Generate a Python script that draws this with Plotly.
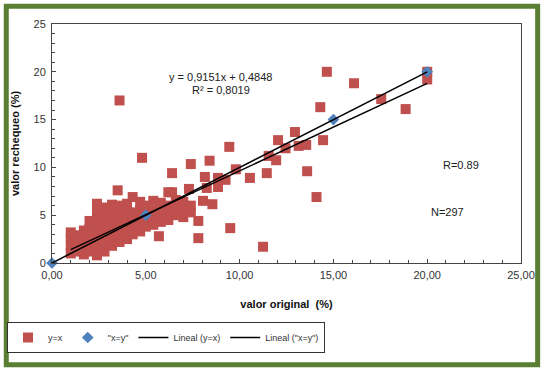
import plotly.graph_objects as go

# ---- data ----
red_x = [
    3.6, 4.8, 14.65, 16.1, 14.3, 17.55, 18.85, 20.0, 20.0, 14.45, 12.95, 12.05, 13.15, 13.55,
    12.45, 11.55, 11.95, 9.45, 10.55, 11.45, 13.6, 14.1, 9.8, 8.4, 7.4, 8.15, 8.85, 9.25,
    8.85, 8.25, 7.3, 6.95, 8.05, 8.55, 7.8, 7.8, 9.5, 11.25, 5.7, 6.4, 6.4, 3.5,
    1.0, 1.0, 1.0, 1.0,
    1.3, 1.3, 1.3,
    1.7, 1.7, 1.7, 1.7,
    2.0, 2.0, 2.0, 2.0, 2.0,
    2.4, 2.4, 2.4, 2.4, 2.4, 2.4, 2.4, 2.4,
    2.8, 2.8, 2.8, 2.8, 2.8, 2.8, 2.8,
    3.2, 3.2, 3.2, 3.2, 3.2, 3.2, 3.2,
    3.6, 3.6, 3.6, 3.6, 3.6, 3.6,
    4.0, 4.0, 4.0, 4.0, 4.0, 4.0,
    4.3, 4.3, 4.3, 4.3, 4.3,
    4.7, 4.7, 4.7, 4.7, 4.7,
    5.0, 5.0, 5.0, 5.0,
    5.4, 5.4, 5.4, 5.4,
    5.8, 5.8, 5.8, 5.8,
    6.2, 6.2, 6.2, 6.2,
    6.6, 6.6, 6.6,
    7.0, 7.0, 7.0,
    7.4, 7.4,
]
red_y = [
    17.0, 11.0, 20.0, 18.8, 16.3, 17.15, 16.1, 20.0, 19.2, 12.85, 13.7, 12.85, 12.25, 12.35,
    12.0, 11.2, 10.75, 12.15, 8.9, 9.4, 9.6, 6.9, 9.8, 10.7, 10.35, 9.0, 8.9, 8.7,
    7.95, 7.85, 7.75, 6.3, 6.5, 6.15, 4.4, 2.6, 3.65, 1.7, 2.8, 9.4, 7.4, 7.6,
    1.0, 1.8, 2.6, 3.2,
    1.2, 2.0, 2.9,
    0.9, 1.6, 2.4, 3.4,
    1.2, 2.0, 2.8, 3.6, 4.4,
    0.8, 1.5, 2.3, 3.0, 3.9, 4.7, 5.5, 6.2,
    1.2, 2.0, 2.8, 3.6, 4.3, 5.0, 5.8,
    1.8, 2.5, 3.3, 4.0, 4.8, 5.5, 6.1,
    2.2, 3.0, 3.8, 4.5, 5.2, 6.0,
    2.5, 3.2, 4.0, 4.7, 5.4, 6.2,
    3.0, 3.8, 4.5, 5.3, 6.9,
    3.3, 4.1, 4.8, 5.6, 6.4,
    3.8, 4.5, 5.3, 6.0,
    4.0, 4.8, 5.5, 6.5,
    4.3, 5.0, 5.8, 6.3,
    4.5, 5.2, 6.0, 7.4,
    5.0, 5.8, 6.6,
    4.8, 5.6, 6.4,
    5.3, 6.0,
]
blue_x = [0, 5, 15, 20]
blue_y = [0, 5, 15, 20]

slope = 0.9151
intercept = 0.4848
r2_text = "0,8019"

x_ticks = [0, 5, 10, 15, 20, 25]
x_tick_text = ["0,00", "5,00", "10,00", "15,00", "20,00", "25,00"]
y_ticks = [0, 5, 10, 15, 20, 25]

# trend lines
fit_x = [min(red_x), max(red_x)]
fit_y = [slope * v + intercept for v in fit_x]
idl_x = [min(blue_x), max(blue_x)]
idl_y = [min(blue_y), max(blue_y)]

FONT = "Liberation Sans, Arial, sans-serif"

fig = go.Figure()
fig.add_trace(go.Scatter(x=red_x, y=red_y, mode="markers", name="y=x",
                         marker=dict(symbol="square", size=10, color="#C0504D"),
                         cliponaxis=False))
fig.add_trace(go.Scatter(x=blue_x, y=blue_y, mode="markers", name='"x=y"',
                         marker=dict(symbol="diamond", size=9, color="#4F81BD"),
                         cliponaxis=False))
fig.add_trace(go.Scatter(x=fit_x, y=fit_y, mode="lines", name="Lineal (y=x)",
                         line=dict(color="black", width=1.5)))
fig.add_trace(go.Scatter(x=idl_x, y=idl_y, mode="lines", name='Lineal ("x=y")',
                         line=dict(color="black", width=1.5)))

fig.add_annotation(x=9.0, y=19.5, text=f"y = {str(slope).replace('.', ',')}x + {str(intercept).replace('.', ',')}",
                   showarrow=False, font=dict(size=11, color="#222"))
fig.add_annotation(x=9.0, y=18.1, text=f"R² = {r2_text}", showarrow=False,
                   font=dict(size=11, color="#222"))
fig.add_annotation(x=21.8, y=10.25, text="R=0.89", showarrow=False,
                   font=dict(size=11, color="#222"))
fig.add_annotation(x=21.1, y=5.35, text="N=297", showarrow=False,
                   font=dict(size=11, color="#222"))

# green frame
fig.add_shape(type="rect", xref="paper", yref="paper",
              x0=-0.0975, x1=1.0355, y0=-0.4255, y1=1.0745,
              line=dict(color="#5B7F32", width=5), layer="below")

fig.update_layout(
    width=547, height=376,
    margin=dict(l=52, r=24, t=24, b=113),
    paper_bgcolor="white", plot_bgcolor="white",
    font=dict(family=FONT, size=11, color="#333"),
    showlegend=True,
    legend=dict(orientation="h", xref="container", yref="container",
                x=7 / 547, y=1 - 322 / 376, xanchor="left", yanchor="top",
                bordercolor="#333", borderwidth=1, font=dict(size=9, color="#333"),
                bgcolor="white", itemwidth=30, tracegroupgap=0),
)
fig.update_xaxes(range=[0, 25], tickvals=x_ticks, ticktext=x_tick_text,
                 showgrid=False, zeroline=False, showline=True, linecolor="#444",
                 linewidth=1, mirror=True, ticks="inside", ticklen=4, tickcolor="#444",
                 minor=dict(ticks="inside", dtick=1, ticklen=3, tickcolor="#444"),
                 tickfont=dict(size=11, color="#333"), ticklabelstandoff=2,
                 title=dict(text="<b>valor original  (%)</b>", standoff=20,
                            font=dict(size=11, color="#111")))
fig.update_yaxes(range=[0, 25], tickvals=y_ticks,
                 showgrid=False, zeroline=False, showline=True, linecolor="#444",
                 linewidth=1, mirror=True, ticks="inside", ticklen=4, tickcolor="#444",
                 minor=dict(ticks="inside", dtick=1, ticklen=3, tickcolor="#444"),
                 tickfont=dict(size=11, color="#333"), ticklabelstandoff=3,
                 title=dict(text="<b>valor rechequeo (%)</b>", standoff=11,
                            font=dict(size=11, color="#111")))

fig.write_html("out.html", config={"displayModeBar": False},
               post_script="document.body.style.margin='0';")
